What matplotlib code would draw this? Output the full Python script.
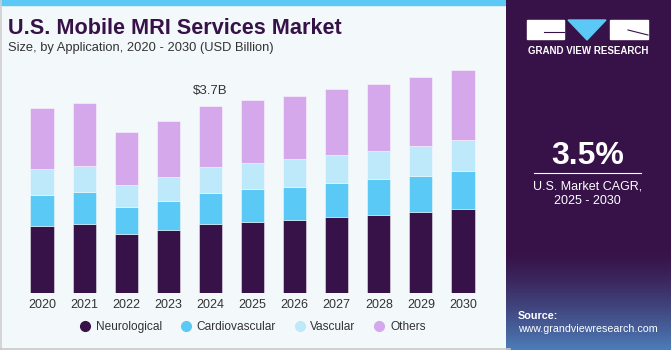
import numpy as np
import matplotlib
matplotlib.use('Agg')
import matplotlib.pyplot as plt
from matplotlib.patches import Rectangle, Polygon
from matplotlib.lines import Line2D

years = ['2020', '2021', '2022', '2023', '2024', '2025', '2026', '2027', '2028', '2029', '2030']
neurological = [1.33, 1.37, 1.17, 1.25, 1.37, 1.41, 1.45, 1.50, 1.55, 1.61, 1.67]
cardiovascular = [0.61, 0.63, 0.53, 0.57, 0.61, 0.64, 0.65, 0.68, 0.70, 0.71, 0.74]
vascular = [0.51, 0.51, 0.43, 0.47, 0.51, 0.52, 0.54, 0.55, 0.56, 0.59, 0.61]
others = [1.21, 1.25, 1.05, 1.11, 1.21, 1.24, 1.25, 1.29, 1.32, 1.36, 1.39]
labels = ['Neurological', 'Cardiovascular', 'Vascular', 'Others']
colors = ['#371248', '#5BC9F5', '#BDE9FA', '#D5A8EC']

plt.rcParams['font.family'] = ['Liberation Sans', 'DejaVu Sans']

W, H = 671, 350
fig = plt.figure(figsize=(W/100, H/100), dpi=100)
fig.patch.set_facecolor('#F3F8FB')

def fx(x):
    return x / W
def fy(y):
    return 1 - y / H

# frame of the left panel
fig.add_artist(Rectangle((0, fy(5)), fx(510), 5/H, transform=fig.transFigure, color='#5BC8F5', zorder=0))
fig.add_artist(Line2D([fx(0.5), fx(0.5)], [0, 1], transform=fig.transFigure, color='#CFCFCF', lw=1.2))
fig.add_artist(Line2D([0, fx(510)], [fy(348.5), fy(348.5)], transform=fig.transFigure, color='#C8C8C8', lw=1.2))

# right panel, solid purple fading to blue at the bottom
axr = fig.add_axes([fx(506), 0, fx(W - 506), 1])
axr.set_xlim(0, 1)
axr.set_ylim(0, 1)
axr.axis('off')
top = np.array([0x37, 0x12, 0x48]) / 255
bot = np.array([0x4c, 0x7c, 0xb8]) / 255
yy = np.linspace(0, 1, 200)
t = np.clip((0.28 - yy) / 0.28, 0, 1) ** 1.3
img = np.array([top * (1 - k) + bot * k for k in t])
axr.imshow(img.reshape(200, 1, 3), extent=[0, 1, 0, 1], aspect='auto', origin='lower')

# logo
fig.add_artist(Rectangle((fx(527), fy(39)), 37/W, 19/H, transform=fig.transFigure, color='white'))
fig.add_artist(Rectangle((fx(610), fy(39)), 38/W, 19/H, transform=fig.transFigure, color='white'))
fig.add_artist(Polygon([[fx(568), fy(20)], [fx(606), fy(20)], [fx(587), fy(40)]], closed=True,
                       transform=fig.transFigure, color='#5BC8F5'))
fig.add_artist(Line2D([fx(544), fx(564)], [fy(32), fy(32)], transform=fig.transFigure, color='#371248', lw=0.8))
fig.add_artist(Line2D([fx(628), fx(648)], [fy(30), fy(35)], transform=fig.transFigure, color='#371248', lw=0.8))
fig.text(fx(588), fy(50.5), 'GRAND VIEW RESEARCH', color='white', fontsize=7, fontweight='bold',
         ha='center', va='center')

fig.text(fx(587.5), fy(156), '3.5%', color='white', fontsize=23, fontweight='bold', ha='center', va='center')
fig.add_artist(Line2D([fx(534), fx(641)], [fy(173), fy(173)], transform=fig.transFigure, color='white', lw=0.8))
fig.text(fx(587.5), fy(186), 'U.S. Market CAGR,', color='white', fontsize=9, ha='center', va='center')
fig.text(fx(587.5), fy(201), '2025 - 2030', color='white', fontsize=9, ha='center', va='center')
fig.text(fx(518), fy(316), 'Source:', color='white', fontsize=7.8, fontweight='bold', ha='left', va='center')
fig.text(fx(518), fy(329), 'www.grandviewresearch.com', color='white', fontsize=7.7, ha='left', va='center')

# titles
fig.text(fx(8), fy(28), 'U.S. Mobile MRI Services Market', color='#371248', fontsize=15.6,
         fontweight='bold', ha='left', va='center')
fig.text(fx(8), fy(48), 'Size, by Application, 2020 - 2030 (USD Billion)', color='#333333', fontsize=9.3,
         ha='left', va='center')

# chart
base_px = 293.3
ymax = 4.5
top_px = base_px - ymax * 50.7
ax = fig.add_axes([fx(21), fy(base_px), fx(484) - fx(21), (base_px - top_px) / H])
ax.set_facecolor('none')
x = np.arange(len(years))
bottom = np.zeros(len(years))
for vals, c, lab in zip([neurological, cardiovascular, vascular, others], colors, labels):
    ax.bar(x, vals, 0.55, bottom=bottom, color=c, edgecolor=(1, 1, 1, 0.45), linewidth=0.7, label=lab)
    bottom += np.array(vals)
ax.set_xlim(-0.5, len(years) - 0.5)
ax.set_ylim(0, ymax)
ax.set_xticks(x)
ax.set_xticklabels(years, fontsize=9, color='#333333')
ax.tick_params(axis='x', length=0, pad=4)
ax.set_yticks([])
for s in ax.spines.values():
    s.set_visible(False)
ax.text(4, bottom[4] + 0.17, '$3.7B', ha='center', va='bottom', fontsize=9.5, color='#333333')

handles = [Line2D([], [], marker='o', ls='', color=c, markersize=7) for c in colors]
fig.legend(handles, labels, loc='center left', bbox_to_anchor=(fx(73), fy(327)), ncol=4,
           frameon=False, fontsize=8.6, handletextpad=0.3, columnspacing=1.4, handlelength=1.2,
           labelcolor='#333333', borderaxespad=0)

fig.savefig('out.png', dpi=100, facecolor=fig.get_facecolor())
